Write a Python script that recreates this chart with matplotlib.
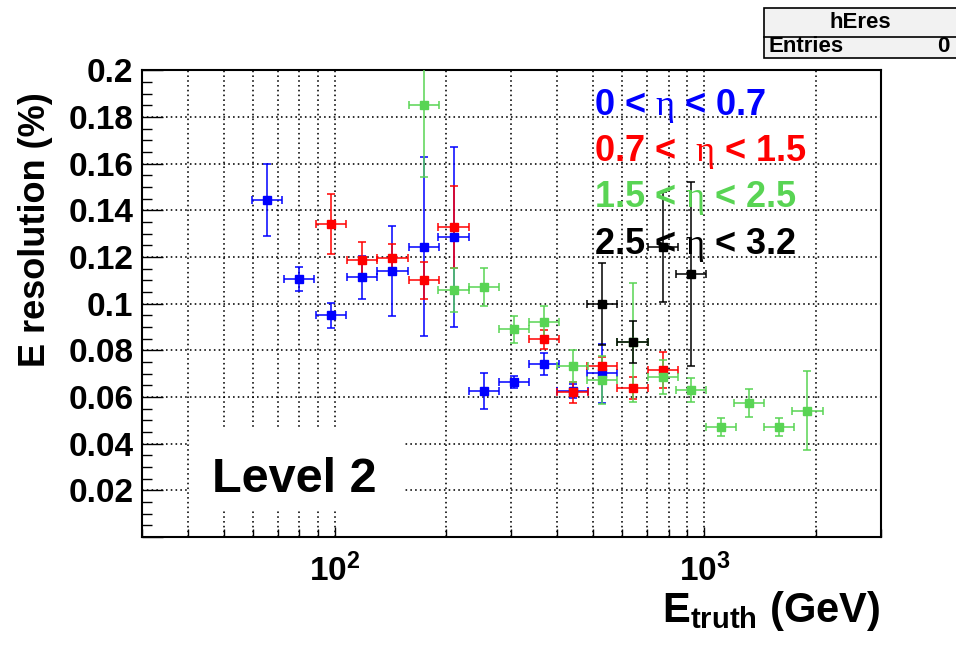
import matplotlib
matplotlib.use("Agg")
import matplotlib.pyplot as plt
import numpy as np
from matplotlib.patches import Rectangle
from matplotlib.lines import Line2D
from matplotlib.ticker import FixedLocator, LogLocator, MultipleLocator, FuncFormatter, NullFormatter

plt.rcParams['font.family'] = ['Liberation Sans', 'DejaVu Sans']
plt.rcParams['mathtext.fontset'] = 'custom'
plt.rcParams['mathtext.rm'] = 'Liberation Serif'
plt.rcParams['mathtext.bf'] = 'Liberation Sans:bold'
plt.rcParams['mathtext.it'] = 'Liberation Sans:italic'

# energy resolution per eta range, E_truth in GeV
e_blue = [65.4, 80.0, 97.4, 118.6, 143.2, 173.9, 209.5, 253.5, 305.5, 368.0, 440.0, 529.0]
res_blue = [0.1445, 0.1106, 0.0950, 0.1113, 0.1142, 0.1245, 0.1285, 0.0626, 0.0666, 0.0742, 0.0627, 0.0702]
err_blue = [0.0153, 0.0052, 0.0055, 0.0092, 0.0193, 0.0385, 0.0385, 0.0078, 0.0026, 0.0047, 0.0030, 0.0127]

e_red = [97.4, 118.6, 143.2, 173.9, 209.5, 368.0, 440.0, 529.0, 639.0, 773.0]
res_red = [0.1342, 0.1188, 0.1195, 0.1100, 0.1330, 0.0848, 0.0620, 0.0733, 0.0640, 0.0716]
err_red = [0.0130, 0.0075, 0.0060, 0.0080, 0.0175, 0.0040, 0.0044, 0.0040, 0.0048, 0.0078]

e_green = [173.9, 209.5, 253.5, 305.5, 368.0, 440.0, 529.0, 639.0, 773.0, 921.6, 1110.0, 1323.0, 1594.0, 1900.0]
res_green = [0.1852, 0.1059, 0.1072, 0.0890, 0.0923, 0.0733, 0.0673, 0.0835, 0.0687, 0.0630, 0.0470, 0.0576, 0.0470, 0.0542]
err_green = [0.0307, 0.0096, 0.0082, 0.0058, 0.0066, 0.0068, 0.0104, 0.0255, 0.0072, 0.0050, 0.0039, 0.0060, 0.0039, 0.0171]

e_black = [529.0, 639.0, 773.0, 921.6]
res_black = [0.0999, 0.0837, 0.1245, 0.1128]
err_black = [0.0175, 0.0089, 0.0236, 0.0394]

half_bin = 0.041  # half bin width in log10(E)

labels = [r'0 < $\mathrm{\eta}$ < 0.7', r'0.7 <  $\mathrm{\eta}$ < 1.5',
          r'1.5 < $\mathrm{\eta}$ < 2.5', r'2.5 < $\mathrm{\eta}$ < 3.2']
colors = ['#0000ff', '#ff0000', '#59d454', '#000000']

fig = plt.figure(figsize=(9.56, 6.52), dpi=100)
ax = fig.add_axes([0.1482, 0.1764, 0.7730, 0.7155])

series = [(e_blue, res_blue, err_blue), (e_red, res_red, err_red),
          (e_green, res_green, err_green), (e_black, res_black, err_black)]
for (x, y, yerr), c in zip(series, colors):
    x = np.array(x)
    xerr = [x - x * 10 ** -half_bin, x * 10 ** half_bin - x]
    ax.errorbar(x, y, yerr=yerr, xerr=xerr, fmt='s', color=c, ms=5.8,
                elinewidth=1.1, capsize=3.2, capthick=1.1, zorder=3)

ax.set_xscale('log')
ax.set_xlim(30, 3000)
ax.set_ylim(0, 0.2)

ax.xaxis.set_major_locator(FixedLocator([100, 1000]))
ax.xaxis.set_minor_locator(LogLocator(base=10, subs=np.arange(2, 10)))
ax.xaxis.set_minor_formatter(NullFormatter())
ax.set_xticklabels([r'$\mathbf{10^{2}}$', r'$\mathbf{10^{3}}$'])
ax.yaxis.set_major_locator(MultipleLocator(0.02))
ax.yaxis.set_minor_locator(MultipleLocator(0.005))
ax.yaxis.set_major_formatter(FuncFormatter(lambda v, p: '' if abs(v) < 1e-9 else '%g' % round(v, 3)))

ax.tick_params(axis='both', which='both', direction='in', top=False, right=False, colors='black')
ax.tick_params(axis='y', which='major', length=15, width=1.0, pad=6, labelsize=24)
ax.tick_params(axis='y', which='minor', length=7, width=1.0)
ax.tick_params(axis='x', which='major', length=7, width=1.0, pad=12, labelsize=24)
ax.tick_params(axis='x', which='minor', length=6, width=1.0)
for lab in ax.get_yticklabels():
    lab.set_fontweight('bold')

ax.set_axisbelow(True)
ax.grid(True, which='both', axis='x', color='black', ls=(0, (1, 2)), lw=1.15)
ax.grid(True, which='major', axis='y', color='black', ls=(0, (1, 2)), lw=1.15)
for s in ax.spines.values():
    s.set_linewidth(1.5)

# white pad behind the level tag
ax.add_patch(Rectangle((0.0655, 0.0557), 0.2881, 0.1737, transform=ax.transAxes,
                       fc='white', ec='none', zorder=1))
fig.text(212 / 956, 1 - 492 / 652, 'Level 2', fontsize=35, fontweight='bold',
         ha='left', va='baseline')

for i, (lab, c) in enumerate(zip(labels, colors)):
    yb = [115, 160.7, 207, 254][i]
    fig.text(594 / 956, 1 - yb / 652, lab, color=c, fontsize=26, fontweight='bold',
             ha='left', va='baseline', zorder=5)

fig.text(880 / 956, 1 - 622 / 652, r'E$_{\mathbf{truth}}$ (GeV)', fontsize=30,
         fontweight='bold', ha='right', va='baseline')
fig.text(36 / 956, 1 - 92 / 652, 'E resolution (%)', fontsize=26, fontweight='bold',
         rotation=90, ha='center', va='top')

# stats box
fig.add_artist(Rectangle((764 / 956, 1 - 58 / 652), 0.3, 50 / 652, transform=fig.transFigure,
                         fc='#f2f2f2', ec='black', lw=1.2))
fig.add_artist(Line2D([764 / 956, 1], [1 - 37 / 652, 1 - 37 / 652], transform=fig.transFigure,
                      color='black', lw=1.2))
fig.text(860 / 956, 1 - 22 / 652, 'hEres', fontsize=16, fontweight='bold', ha='center', va='center')
fig.text(768 / 956, 1 - 47 / 652, 'Entries', fontsize=16, fontweight='bold', ha='left', va='center')
fig.text(950 / 956, 1 - 47 / 652, '0', fontsize=16, fontweight='bold', ha='right', va='center')

fig.savefig('out.png', dpi=100)
